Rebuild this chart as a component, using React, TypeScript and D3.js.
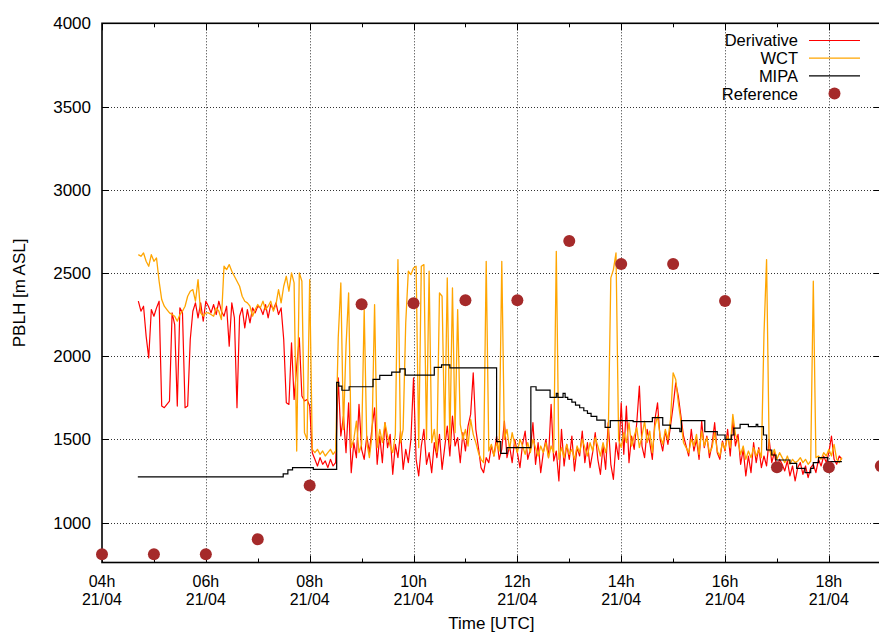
import React from 'react';
import * as d3 from 'd3';

const width = 879;
const height = 637;
const plot = { left: 102, right: 880.8, top: 23.3, bottom: 562.5 };

// regular 3-minute samples, starting 04:42 UTC
const sampleStart = 4.7;
const sampleStep = 0.05;

const derivativeValues = [
  2330, 2270, 2300, 2120, 1990, 2280, 2240, 2290, 2330, 1700,
  1690, 1710, 1730, 2260, 2190, 1700, 2290, 2260, 1690, 1700,
  2100, 2270, 2320, 2230, 2320, 2210, 2330, 2300, 2260, 2310,
  2250, 2330, 2270, 2240, 2300, 2060, 2320, 2230, 1690, 2240,
  2290, 2170, 2280, 2200, 2290, 2260, 2300, 2290, 2250, 2310,
  2230, 2310, 2280, 2320, 2250, 2290, 2100, 1720, 1710, 2080,
  1740, 1940, 2110, 1760, 1730, 1740, 1700, 1420, 1380, 1340,
  1390, 1350, 1370, 1330, 1380, 1340, 1360, 1870, 1520, 1640,
  1420, 1720, 1300, 1480, 1390, 1710, 1440, 1380, 1520, 1420,
  1570, 1690, 1350, 1520, 1360, 1600, 1450, 1530, 1290, 1470,
  1390, 1550, 1320, 1440, 1360, 1500, 1870, 1380, 1280, 1460,
  1560, 1350, 1420, 1300, 1480, 1390, 1530, 1320, 1450, 1580,
  1400, 1640, 1460, 1510, 1360, 1540, 1430, 1580, 1650, 1900,
  1560, 1450, 1330, 1300, 1390, 1360, 1460, 1400, 1520, 1380,
  1440, 1610, 1390, 1460, 1360, 1500, 1420, 1330, 1470, 1550,
  1380, 1440, 1600, 1350, 1480, 1300, 1420, 1500, 1390, 1710,
  1370, 1430, 1250, 1560, 1340, 1470, 1380, 1520, 1310, 1450,
  1400, 1550, 1360, 1480, 1330, 1420, 1540, 1380, 1290, 1460,
  1320, 1600, 1350, 1260, 1480, 1380, 1720, 1410, 1700, 1360,
  1520, 1440, 1600, 1820, 1460, 1390, 1560, 1480, 1380, 1620,
  1720, 1500, 1430, 1550, 1470, 1580, 1700, 1840, 1760, 1640,
  1520, 1460, 1400, 1560, 1430, 1500, 1380, 1610, 1450, 1520,
  1390, 1470, 1600, 1420, 1380, 1490, 1430, 1560, 1400, 1610,
  1460, 1530, 1350, 1440, 1280, 1400, 1300, 1480, 1360, 1450,
  1330, 1400, 1340, 1500, 1360, 1420, 1320, 1380, 1350, 1310,
  1370, 1280, 1340, 1250, 1330, 1360, 1290, 1340, 1270, 1330,
  1350, 1300, 1380, 1340, 1400, 1360, 1420, 1520, 1380, 1350,
  1400, 1380
];

const wctValues = [
  2610, 2600, 2620, 2570, 2540, 2610, 2570, 2590, 2450, 2340,
  2300, 2280, 2260, 2250, 2240, 2210, 2250, 2270, 2300, 2360,
  2390, 2400, 2330, 2460, 2260, 2240, 2260, 2260, 2250, 2240,
  2290, 2270, 2220, 2540, 2520, 2550, 2510, 2480, 2450, 2420,
  2360, 2330, 2320, 2300, 2240, 2280, 2310, 2290, 2330, 2280,
  2300, 2330, 2270, 2310, 2400, 2320, 2420, 2480, 2390, 2500,
  2440, 1430, 2500, 2450, 1540, 1500, 2460, 1440, 1420, 1440,
  1410, 1430, 1400, 1420, 1440, 1410, 1430, 2110, 2440, 1560,
  2060, 2380, 1450, 1500, 1610, 1420, 1470, 2280, 1480, 1390,
  1520, 2310, 1450, 1560, 1480, 1600, 1520, 1460, 1420, 1530,
  2580, 1480, 1560, 2200, 2510, 2490, 2530, 2540, 1450, 2540,
  2550, 1500, 2510, 1480, 1560, 1420, 2380, 2360, 1500, 2470,
  1470, 2410, 1540, 2280, 1590, 1500, 1560, 1460, 1620, 1530,
  1480, 1420, 1380, 1360, 2570, 1430, 1470, 1400, 1480, 1430,
  2570, 1500, 1560, 1440, 1540, 1470, 1420, 1500, 1460, 1410,
  1480, 1420, 1500, 1450, 1400, 1460, 1420, 1480, 1390, 1460,
  1420, 2630, 1380, 1450, 1390, 1470, 1410, 1440, 1380, 1460,
  1420, 1500, 1450, 1400, 1480, 1430, 1510, 1460, 1400, 1480,
  1420, 1510, 2470, 2520, 2620, 1500, 1450, 1540, 1480, 1600,
  1460, 1520, 1570, 1450, 1520, 1610, 1480, 1550, 1420, 1580,
  1640, 1520, 1470, 1560, 1500, 1620, 1900, 1860, 1720, 1610,
  1480, 1450, 1420, 1500, 1460, 1530, 1410, 1550, 1460, 1510,
  1420, 1450, 1540, 1430, 1400, 1480, 1440, 1520, 1450, 1650,
  1530, 1490, 1410, 1460, 1380, 1430, 1390, 1450, 1400, 1440,
  1390, 2130, 2580, 1440, 1400, 1440, 1380, 1420, 1390, 1360,
  1400, 1350, 1380, 1360, 1370, 1390, 1360, 1380, 1350, 1370,
  2450, 1390, 1400, 1380, 1420, 1400, 1440, 1400, 1470, 1380,
  1360, 1390
];

// MIPA step changes (hour UTC, height)
const mipaTimes = [
  4.69, 7.49, 7.58, 7.67, 8.07, 8.52, 8.56, 8.62, 8.76, 9.22,
  9.35, 9.58, 9.74, 9.84, 10.4, 10.54, 10.7, 11.6, 11.68, 11.8,
  12.26, 12.36, 12.63, 12.75, 12.78, 12.88, 12.92, 12.97, 13.05, 13.12,
  13.2, 13.28, 13.35, 13.42, 13.53, 13.69, 13.79, 14.23, 14.6, 14.8,
  14.95, 15.13, 15.16, 15.61, 15.85, 16.0, 16.12, 16.17, 16.29, 16.45,
  16.6, 16.63, 16.74, 16.8, 16.9, 16.98, 17.12, 17.25, 17.38, 17.54,
  17.65, 17.7, 17.8, 17.98, 18.25
];
const mipaValues = [
  1275, 1292, 1316, 1330, 1320, 1842, 1820, 1795, 1816, 1860,
  1884, 1904, 1924, 1886, 1932, 1948, 1930, 1486, 1416, 1450,
  1816, 1796, 1752, 1776, 1752, 1776, 1752, 1740, 1724, 1706,
  1690, 1672, 1656, 1638, 1616, 1572, 1612, 1606, 1630, 1586,
  1566, 1546, 1612, 1546, 1526, 1500, 1526, 1568, 1590, 1576,
  1590, 1576, 1526, 1436, 1406, 1376, 1376, 1356, 1326, 1300,
  1326, 1360, 1390, 1366, 1366
];

const referenceHours = [4, 5, 6, 7, 8, 9, 10, 11, 12, 13, 14, 15, 16, 17, 18, 19];
const referenceValues = [810, 810, 810, 900, 1222, 2312, 2318, 2336, 2336, 2692, 2554, 2554, 2332, 1332, 1332, 1340];

const xTickHours = [4, 6, 8, 10, 12, 14, 16, 18];
const xMinorHours = [5, 7, 9, 11, 13, 15, 17, 19];
const yTicks = [1000, 1500, 2000, 2500, 3000, 3500, 4000];

const legendItems = [
  { label: 'Derivative', color: '#ff0000', kind: 'line' },
  { label: 'WCT', color: '#ffa500', kind: 'line' },
  { label: 'MIPA', color: '#000000', kind: 'line' },
  { label: 'Reference', color: '#a52a2a', kind: 'point' }
];

const font = '"Liberation Sans", Arial, Helvetica, sans-serif';
const fs = 17;

const App = () => {
  const x = d3.scaleLinear().domain([4, 19]).range([plot.left, plot.right]);
  const y = d3.scaleLinear().domain([760, 4000]).range([plot.bottom, plot.top]);

  const sampleLine = d3.line<number>()
    .x((d, i) => x(sampleStart + i * sampleStep))
    .y(d => y(d));

  const mipa = mipaTimes.map((t, i) => [t, mipaValues[i]] as [number, number]);
  const mipaLine = d3.line<[number, number]>()
    .x(d => x(d[0]))
    .y(d => y(d[1]))
    .curve(d3.curveStepAfter);

  const crisp = (v: number) => Math.round(v) + 0.5;

  return (
    <svg
      width={width}
      height={height}
      style={{ position: 'absolute', left: 0, top: 0, background: '#fff' }}
      fontFamily={font}
    >
      {/* grid */}
      {yTicks.filter(t => t < 4000).map(t => (
        <line key={'gy' + t} x1={plot.left} x2={plot.right} y1={crisp(y(t))} y2={crisp(y(t))}
          stroke="#000" strokeWidth={1} strokeDasharray="1 2" opacity={0.8} />
      ))}
      {xTickHours.filter(h => h > 4).map(h => (
        <line key={'gx' + h} x1={crisp(x(h))} x2={crisp(x(h))} y1={plot.top} y2={plot.bottom}
          stroke="#000" strokeWidth={1} strokeDasharray="1 2" opacity={0.8} />
      ))}

      {/* tick marks on all four sides */}
      {yTicks.map(t => (
        <g key={'ty' + t}>
          <line x1={plot.left} x2={plot.left + 7} y1={crisp(y(t))} y2={crisp(y(t))} stroke="#000" />
          <line x1={plot.right - 7} x2={plot.right} y1={crisp(y(t))} y2={crisp(y(t))} stroke="#000" />
        </g>
      ))}
      {xTickHours.map(h => (
        <g key={'tx' + h}>
          <line x1={crisp(x(h))} x2={crisp(x(h))} y1={plot.bottom} y2={plot.bottom - 7} stroke="#000" />
          <line x1={crisp(x(h))} x2={crisp(x(h))} y1={plot.top} y2={plot.top + 7} stroke="#000" />
        </g>
      ))}
      {xMinorHours.map(h => (
        <g key={'tm' + h}>
          <line x1={crisp(x(h))} x2={crisp(x(h))} y1={plot.bottom} y2={plot.bottom - 4} stroke="#000" />
          <line x1={crisp(x(h))} x2={crisp(x(h))} y1={plot.top} y2={plot.top + 4} stroke="#000" />
        </g>
      ))}

      {/* data */}
      <path d={sampleLine(derivativeValues) || ''} fill="none" stroke="#ff0000" strokeWidth={1.2} strokeLinejoin="round" />
      <path d={sampleLine(wctValues) || ''} fill="none" stroke="#ffa500" strokeWidth={1.3} strokeLinejoin="round" />
      <path d={mipaLine(mipa) || ''} fill="none" stroke="#000" strokeWidth={1.2} />

      {/* frame */}
      <rect x={plot.left} y={plot.top} width={plot.right - plot.left} height={plot.bottom - plot.top}
        fill="none" stroke="#000" strokeWidth={1.6} />

      {referenceHours.map((h, i) => (
        <circle key={'r' + h} cx={x(h)} cy={y(referenceValues[i])} r={6} fill="#a52a2a" />
      ))}

      {/* y tick labels */}
      {yTicks.map(t => (
        <text key={'ly' + t} x={91} y={y(t)} dy="0.36em" textAnchor="end" fontSize={fs} fill="#000">
          {t}
        </text>
      ))}

      {/* x tick labels, two lines each */}
      {xTickHours.map(h => (
        <g key={'lx' + h}>
          <text x={x(h)} y={587} textAnchor="middle" fontSize={16} fill="#000">
            {d3.format('02d')(h)}h
          </text>
          <text x={x(h)} y={605} textAnchor="middle" fontSize={16} fill="#000">
            21/04
          </text>
        </g>
      ))}

      {/* axis titles */}
      <text x={(plot.left + plot.right) / 2} y={629} textAnchor="middle" fontSize={fs} fill="#000">
        Time [UTC]
      </text>
      <text transform={`translate(25, ${(plot.top + plot.bottom) / 2}) rotate(-90)`} textAnchor="middle"
        fontSize={fs} fill="#000">
        PBLH [m ASL]
      </text>

      {/* legend */}
      {legendItems.map((item, i) => {
        const ly = 40.5 + i * 17.7;
        return (
          <g key={item.label}>
            <text x={798} y={ly} dy="0.36em" textAnchor="end" fontSize={16.5} fill="#000">{item.label}</text>
            {item.kind === 'line'
              ? <line x1={809} x2={860} y1={ly} y2={ly} stroke={item.color} strokeWidth={1.2} />
              : <circle cx={834.5} cy={ly} r={6} fill={item.color} />}
          </g>
        );
      })}
    </svg>
  );
};

export default App;
